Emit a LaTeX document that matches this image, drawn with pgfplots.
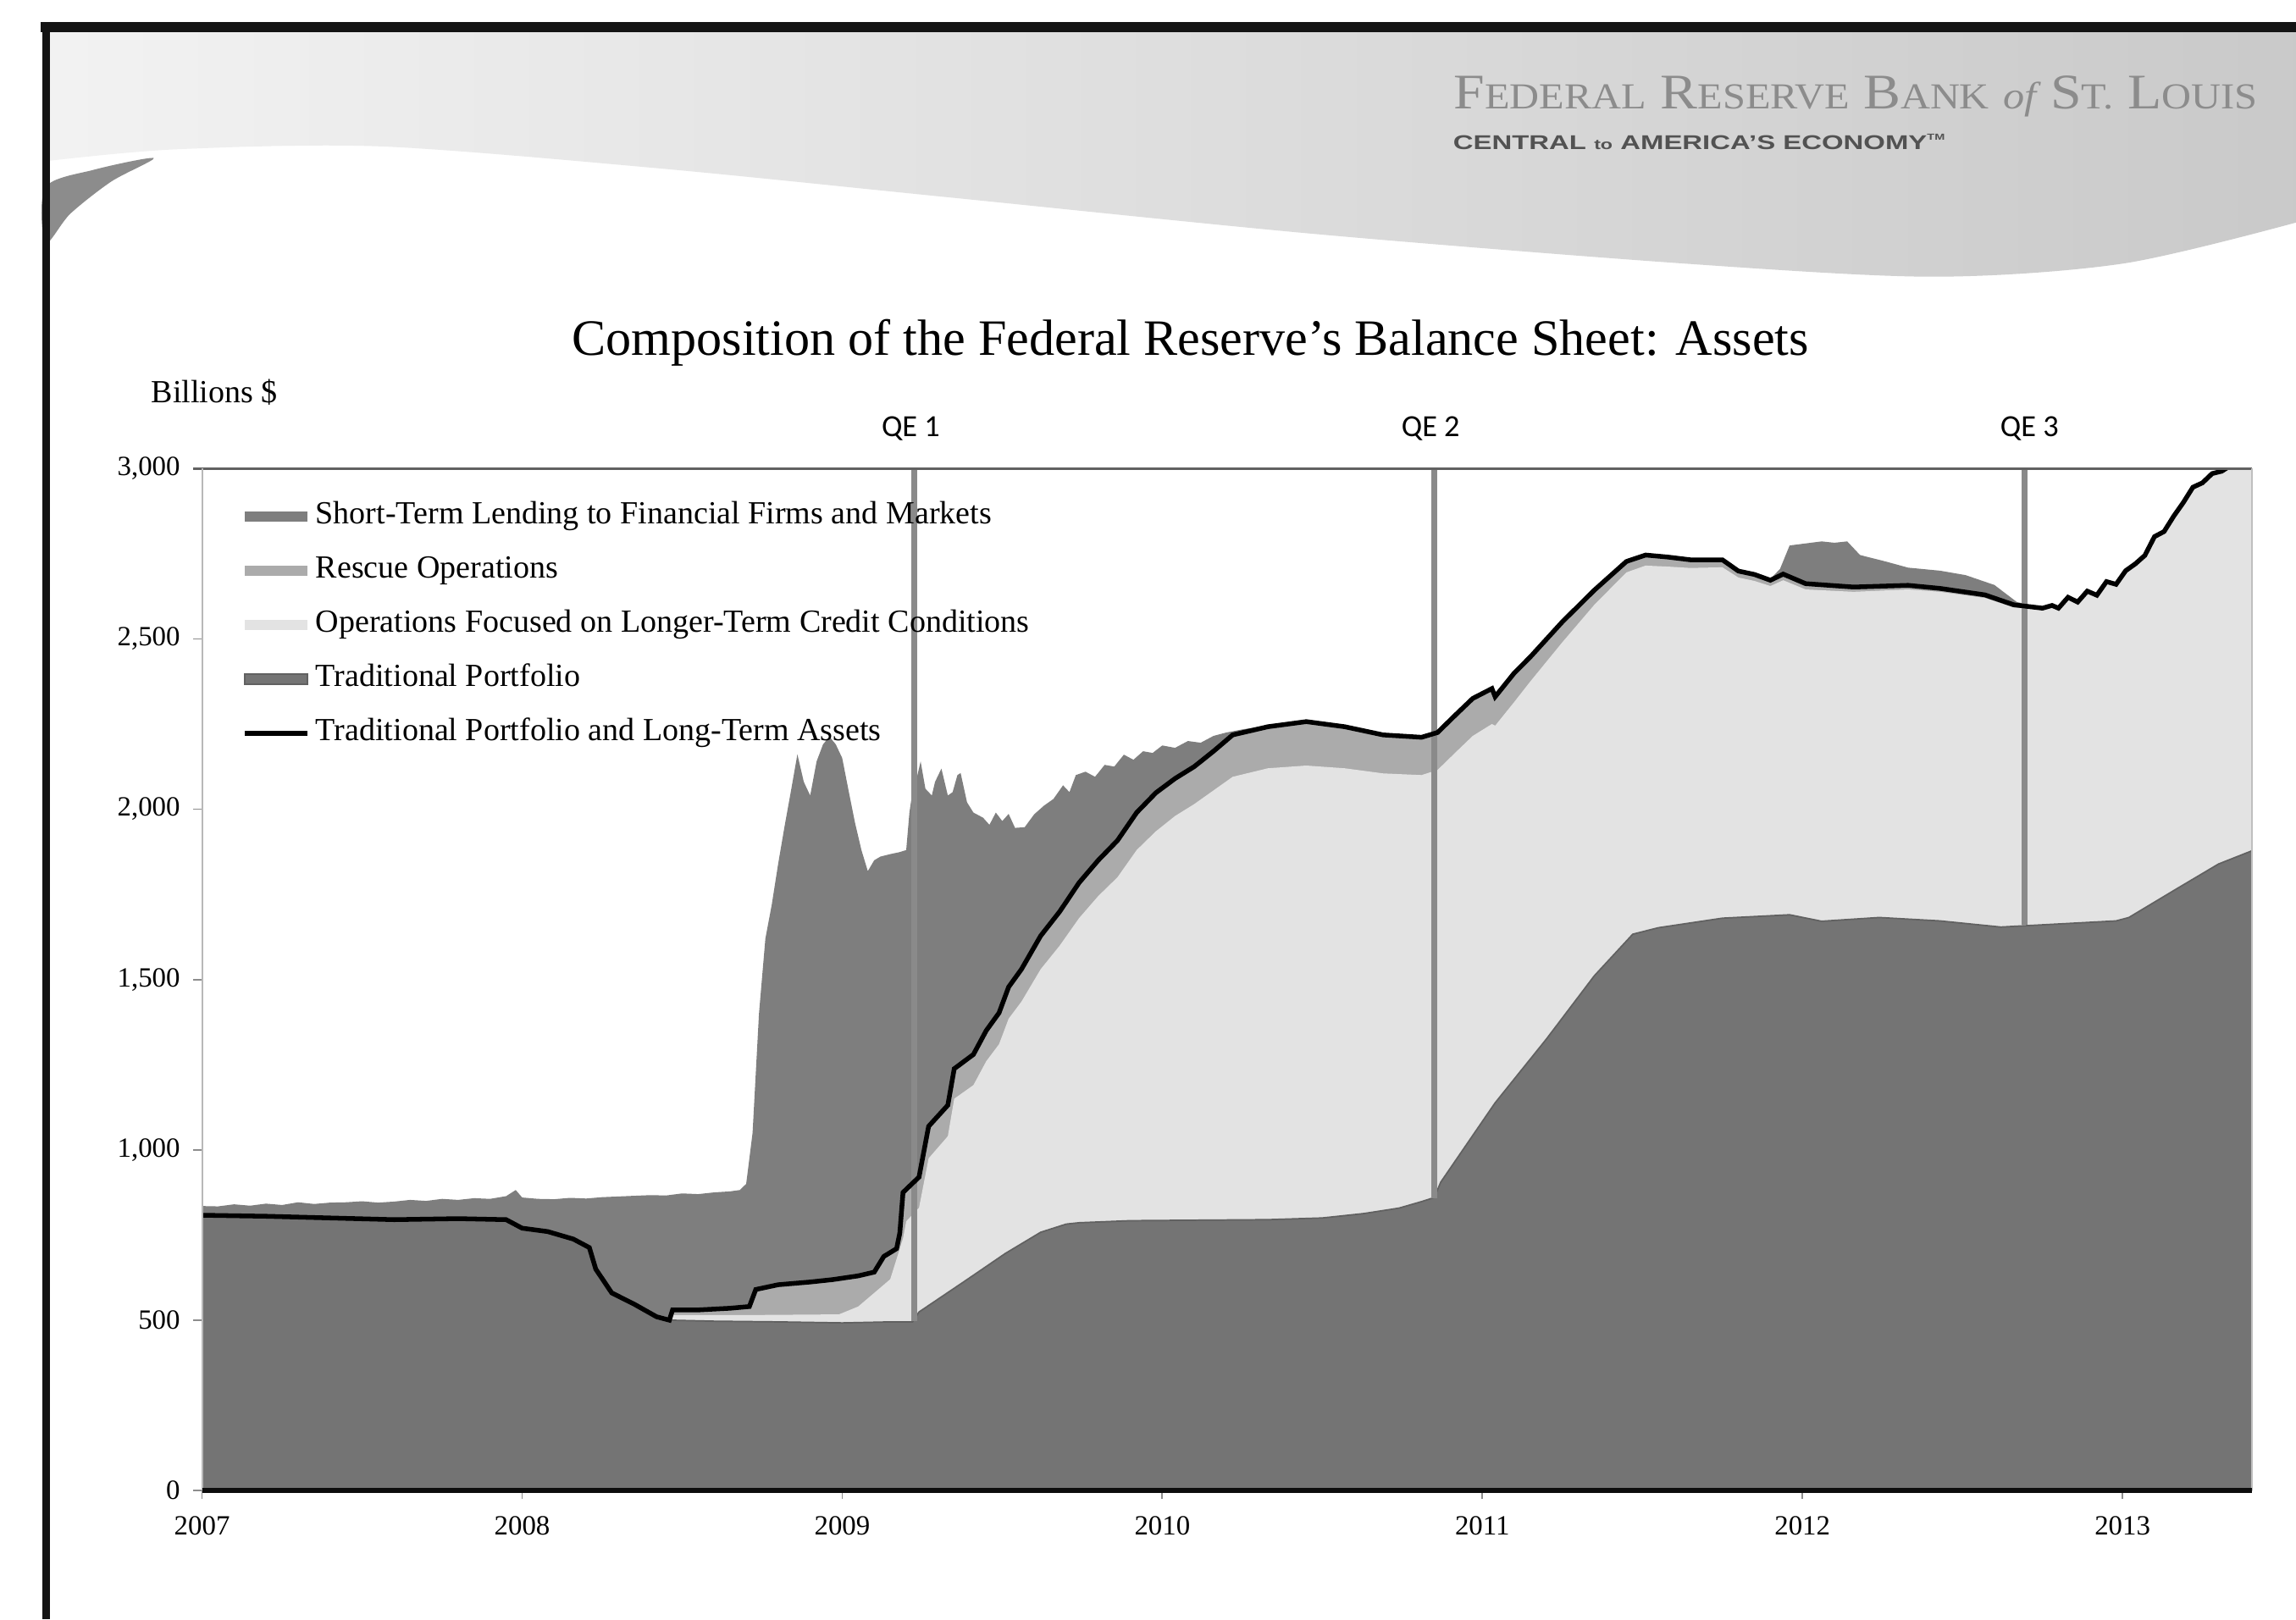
\documentclass[border=0pt]{standalone}
\usepackage{graphicx}
\usepackage{pgfplots}
\pgfplotsset{compat=1.18}
\usepackage{fontspec}
\setmainfont{Liberation Serif}
\setsansfont{Liberation Sans}
\newfontfamily\calibri{Carlito}
\definecolor{stcol}{HTML}{7E7E7E}
\definecolor{rescol}{HTML}{ABABAB}
\definecolor{ltcol}{HTML}{E3E3E3}
\definecolor{tpcol}{HTML}{747474}
\definecolor{qecol}{HTML}{8A8A8A}
\pgfplotsset{
  myarea/.style={legend image code/.code={\fill[##1] (0pt,-1.7pt) rectangle (21.5pt,1.7pt);}},
  myline/.style={legend image code/.code={\draw[##1] (0pt,0pt) -- (21.5pt,0pt);}}
}
\begin{document}
\begin{tikzpicture}[x=1pt,y=1pt]
\path[use as bounding box] (0,0) rectangle (784,553);
\fill[white] (0,0) rectangle (784,553);
% header band
\shade[left color=black!5, right color=black!21] (16,542) -- (784,542) -- plot[smooth] coordinates {(784,477) (725,463) (660,458.5) (575,463) (450,473) (325,485.5) (225,495.5) (130,503) (60,502) (16,498)} -- cycle;
\fill[black!45] plot[smooth cycle] coordinates {(15.5,489) (32,495) (52.5,499) (38,491) (24,480) (15.5,470)};
% frame
\fill[black!92] (14,542) rectangle (784,545.5);
\fill[black!92] (14.5,0) rectangle (17,545.5);
% header texts
\node[anchor=east, text=black!45, inner sep=0pt] at (771,520) {\scalebox{1.12}[1]{\fontsize{17}{20}\selectfont F{\fontsize{12.5}{15}\selectfont EDERAL} R{\fontsize{12.5}{15}\selectfont ESERVE} B{\fontsize{12.5}{15}\selectfont ANK} {\itshape\fontsize{13}{15}\selectfont of} S{\fontsize{12.5}{15}\selectfont T.} L{\fontsize{12.5}{15}\selectfont OUIS}}};
\node[anchor=west, text=black!68, inner sep=0pt] at (496,504.5) {\scalebox{1.4}[1]{\sffamily\bfseries\fontsize{6.8}{8}\selectfont CENTRAL {\fontsize{4.8}{6}\selectfont to} AMERICA'S ECONOMY\textsuperscript{\fontsize{3}{4}\selectfont TM}}};

\begin{axis}[
  at={(69pt,44pt)}, anchor=south west,
  scale only axis, width=700pt, height=349pt,
  xmin=2007, xmax=2013.405, ymin=0, ymax=3000,
  axis line style={draw=none},
  xtick={2007,2008,2009,2010,2011,2012,2013},
  xticklabels={2007,2008,2009,2010,2011,2012,2013},
  ytick={0,500,1000,1500,2000,2500,3000},
  yticklabels={0,500,{1,000},{1,500},{2,000},{2,500},{3,000}},
  tick pos=left, tick align=outside, major tick length=3pt,
  tick style={draw=black!45, line width=0.5pt},
  ticklabel style={font=\fontsize{9.5}{11}\selectfont},
  yticklabel style={xshift=-1pt},
  xticklabel style={yshift=-2.2pt},
  /pgf/number format/assume math mode=true,
  legend cell align=left,
  legend style={at={(0.0193,0.9677)}, anchor=north west, draw=none, fill=none,
    inner sep=0pt, row sep=8.5pt, font=\fontsize{11}{13}\selectfont,
    nodes={inner sep=0pt, text height=7.5pt, text depth=2.5pt},
    /tikz/every odd column/.append style={column sep=2pt}},
]
% Short-term lending (top of stack = total)
\addplot[fill=stcol, draw=none, myarea] coordinates {
(2007.00,835) (2007.05,834) (2007.10,840) (2007.15,836) (2007.20,842) (2007.25,838) (2007.30,846) (2007.35,841) (2007.40,845) (2007.45,846) (2007.50,849) (2007.55,845) (2007.60,848) (2007.65,853) (2007.70,850) (2007.75,856) (2007.80,853) (2007.85,858) (2007.90,856) (2007.95,864) (2007.98,882) (2008.00,860) (2008.05,856) (2008.10,855) (2008.15,859) (2008.20,857) (2008.25,861) (2008.30,863) (2008.35,865) (2008.40,867) (2008.45,866) (2008.50,872) (2008.55,870) (2008.60,875) (2008.65,878) (2008.68,882) (2008.70,900) (2008.72,1050) (2008.74,1400) (2008.76,1620) (2008.78,1720) (2008.80,1840) (2008.82,1950) (2008.84,2054) (2008.86,2161) (2008.88,2080) (2008.90,2040) (2008.92,2140) (2008.94,2190) (2008.96,2213) (2008.98,2190) (2009.00,2150) (2009.02,2054) (2009.04,1960) (2009.06,1880) (2009.08,1818) (2009.10,1850) (2009.12,1861) (2009.15,1868) (2009.18,1874) (2009.20,1880) (2009.21,1990) (2009.22,2054) (2009.235,2100) (2009.245,2140) (2009.26,2060) (2009.28,2040) (2009.29,2080) (2009.31,2119) (2009.33,2040) (2009.345,2050) (2009.36,2100) (2009.37,2106) (2009.39,2020) (2009.41,1990) (2009.44,1975) (2009.46,1954) (2009.48,1990) (2009.50,1965) (2009.52,1986) (2009.54,1945) (2009.57,1947) (2009.60,1985) (2009.63,2010) (2009.66,2030) (2009.69,2070) (2009.71,2050) (2009.73,2100) (2009.76,2110) (2009.79,2095) (2009.82,2130) (2009.85,2125) (2009.88,2160) (2009.91,2145) (2009.94,2170) (2009.97,2165) (2010.00,2187) (2010.04,2180) (2010.08,2200) (2010.12,2195) (2010.16,2215) (2010.20,2225) (2010.25,2234) (2010.33,2246) (2010.45,2260) (2010.57,2245) (2010.69,2220) (2010.81,2213) (2010.86,2228) (2010.92,2283) (2010.97,2328) (2011.03,2357) (2011.04,2333) (2011.10,2403) (2011.15,2450) (2011.25,2553) (2011.35,2646) (2011.45,2730) (2011.51,2750) (2011.58,2744) (2011.65,2736) (2011.75,2735) (2011.80,2702) (2011.85,2692) (2011.90,2676) (2011.93,2705) (2011.96,2774) (2012.01,2780) (2012.06,2786) (2012.10,2782) (2012.14,2786) (2012.18,2746) (2012.26,2727) (2012.33,2709) (2012.43,2700) (2012.51,2687) (2012.60,2658) (2012.67,2608) (2012.75,2592) (2012.78,2600) (2012.80,2592) (2012.83,2624) (2012.86,2610) (2012.89,2642) (2012.92,2630) (2012.95,2670) (2012.98,2662) (2013.01,2702) (2013.04,2722) (2013.07,2747) (2013.10,2802) (2013.13,2817) (2013.16,2862) (2013.19,2902) (2013.22,2947) (2013.25,2960) (2013.28,2987) (2013.31,2994) (2013.34,3012) (2013.405,3062)
} \closedcycle;
\addlegendentry{Short-Term Lending to Financial Firms and Markets}
% Rescue operations (top = TP + LT + rescue)
\addplot[fill=rescol, draw=none, myarea] coordinates {
(2007.00,808) (2007.20,805) (2007.40,800) (2007.60,795) (2007.80,798) (2007.95,795) (2008.00,770) (2008.08,760) (2008.16,738) (2008.21,713) (2008.23,650) (2008.28,580) (2008.35,547) (2008.42,510) (2008.46,500) (2008.47,530) (2008.55,530) (2008.65,535) (2008.71,540) (2008.73,590) (2008.80,604) (2008.90,612) (2008.97,619) (2009.05,630) (2009.10,641) (2009.13,687) (2009.17,710) (2009.18,756) (2009.19,875) (2009.24,920) (2009.27,1069) (2009.33,1131) (2009.35,1238) (2009.41,1280) (2009.45,1350) (2009.49,1402) (2009.52,1478) (2009.56,1530) (2009.62,1628) (2009.68,1700) (2009.74,1784) (2009.80,1850) (2009.86,1908) (2009.92,1990) (2009.98,2048) (2010.04,2090) (2010.10,2125) (2010.16,2170) (2010.22,2218) (2010.33,2242) (2010.45,2257) (2010.57,2242) (2010.69,2218) (2010.81,2211) (2010.86,2225) (2010.92,2280) (2010.97,2325) (2011.03,2354) (2011.04,2330) (2011.10,2400) (2011.15,2447) (2011.25,2550) (2011.35,2643) (2011.45,2727) (2011.51,2746) (2011.58,2740) (2011.65,2732) (2011.75,2732) (2011.80,2699) (2011.85,2689) (2011.90,2672) (2011.94,2690) (2012.01,2662) (2012.16,2652) (2012.33,2657) (2012.43,2648) (2012.57,2629) (2012.66,2600) (2012.75,2590) (2012.78,2598) (2012.80,2590) (2012.83,2622) (2012.86,2608) (2012.89,2640) (2012.92,2628) (2012.95,2668) (2012.98,2660) (2013.01,2700) (2013.04,2720) (2013.07,2745) (2013.10,2800) (2013.13,2815) (2013.16,2860) (2013.19,2900) (2013.22,2945) (2013.25,2958) (2013.28,2985) (2013.31,2992) (2013.34,3010) (2013.405,3060)
} \closedcycle;
\addlegendentry{Rescue Operations}
% Operations focused on longer-term credit conditions (top = TP + LT)
\addplot[fill=ltcol, draw=none, myarea] coordinates {
(2007.00,808) (2007.20,805) (2007.40,800) (2007.60,795) (2007.80,798) (2007.95,795) (2008.00,770) (2008.08,760) (2008.16,738) (2008.21,713) (2008.23,650) (2008.28,580) (2008.35,547) (2008.42,510) (2008.46,500) (2008.47,515) (2008.71,515) (2008.99,517) (2009.05,540) (2009.10,580) (2009.15,620) (2009.19,740) (2009.20,790) (2009.24,830) (2009.27,975) (2009.33,1040) (2009.35,1150) (2009.41,1190) (2009.45,1260) (2009.49,1310) (2009.52,1385) (2009.56,1435) (2009.62,1530) (2009.68,1600) (2009.74,1680) (2009.80,1745) (2009.86,1800) (2009.92,1880) (2009.98,1935) (2010.04,1980) (2010.10,2015) (2010.16,2055) (2010.22,2095) (2010.33,2120) (2010.45,2128) (2010.57,2120) (2010.69,2105) (2010.81,2100) (2010.86,2115) (2010.92,2170) (2010.97,2215) (2011.03,2250) (2011.04,2245) (2011.10,2315) (2011.15,2375) (2011.25,2490) (2011.35,2600) (2011.45,2695) (2011.51,2715) (2011.58,2712) (2011.65,2708) (2011.75,2710) (2011.80,2680) (2011.85,2670) (2011.90,2655) (2011.94,2672) (2012.01,2645) (2012.16,2638) (2012.33,2645) (2012.43,2638) (2012.57,2620) (2012.66,2592) (2012.75,2585) (2012.78,2598) (2012.80,2590) (2012.83,2622) (2012.86,2608) (2012.89,2640) (2012.92,2628) (2012.95,2668) (2012.98,2660) (2013.01,2700) (2013.04,2720) (2013.07,2745) (2013.10,2800) (2013.13,2815) (2013.16,2860) (2013.19,2900) (2013.22,2945) (2013.25,2958) (2013.28,2985) (2013.31,2992) (2013.34,3010) (2013.405,3060)
} \closedcycle;
\addlegendentry{Operations Focused on Longer-Term Credit Conditions}
% Traditional portfolio
\addplot[fill=tpcol, draw=black!62, line width=0.5pt, myarea] coordinates {
(2007.00,808) (2007.20,805) (2007.40,800) (2007.60,795) (2007.80,798) (2007.95,795) (2008.00,770) (2008.08,760) (2008.16,738) (2008.21,713) (2008.23,650) (2008.28,580) (2008.35,547) (2008.42,510) (2008.46,500) (2008.60,497) (2008.80,495) (2009.00,492) (2009.15,495) (2009.22,495) (2009.24,524) (2009.39,619) (2009.51,696) (2009.62,758) (2009.70,782) (2009.74,786) (2009.90,792) (2010.33,795) (2010.50,800) (2010.63,813) (2010.74,829) (2010.81,848) (2010.85,860) (2010.87,905) (2011.04,1138) (2011.20,1325) (2011.35,1511) (2011.47,1633) (2011.55,1652) (2011.75,1680) (2011.96,1690) (2012.06,1671) (2012.24,1682) (2012.43,1672) (2012.62,1654) (2012.80,1663) (2012.98,1672) (2013.02,1682) (2013.16,1761) (2013.30,1839) (2013.405,1878)
} \closedcycle;
\addlegendentry{Traditional Portfolio}
% QE markers
\addplot[qecol, line width=2pt, forget plot] coordinates {(2009.225,3000) (2009.225,497)};
\addplot[qecol, line width=2pt, forget plot] coordinates {(2010.85,3000) (2010.85,858)};
\addplot[qecol, line width=2pt, forget plot] coordinates {(2012.694,3000) (2012.694,1660)};
% Traditional portfolio and long-term assets
\addplot[black, line width=1.6pt, myline] coordinates {
(2007.00,808) (2007.20,805) (2007.40,800) (2007.60,795) (2007.80,798) (2007.95,795) (2008.00,770) (2008.08,760) (2008.16,738) (2008.21,713) (2008.23,650) (2008.28,580) (2008.35,547) (2008.42,510) (2008.46,500) (2008.47,530) (2008.55,530) (2008.65,535) (2008.71,540) (2008.73,590) (2008.80,604) (2008.90,612) (2008.97,619) (2009.05,630) (2009.10,641) (2009.13,687) (2009.17,710) (2009.18,756) (2009.19,875) (2009.24,920) (2009.27,1069) (2009.33,1131) (2009.35,1238) (2009.41,1280) (2009.45,1350) (2009.49,1402) (2009.52,1478) (2009.56,1530) (2009.62,1628) (2009.68,1700) (2009.74,1784) (2009.80,1850) (2009.86,1908) (2009.92,1990) (2009.98,2048) (2010.04,2090) (2010.10,2125) (2010.16,2170) (2010.22,2218) (2010.33,2242) (2010.45,2257) (2010.57,2242) (2010.69,2218) (2010.81,2211) (2010.86,2225) (2010.92,2280) (2010.97,2325) (2011.03,2354) (2011.04,2330) (2011.10,2400) (2011.15,2447) (2011.25,2550) (2011.35,2643) (2011.45,2727) (2011.51,2746) (2011.58,2740) (2011.65,2732) (2011.75,2732) (2011.80,2699) (2011.85,2689) (2011.90,2672) (2011.94,2690) (2012.01,2662) (2012.16,2652) (2012.33,2657) (2012.43,2648) (2012.57,2629) (2012.66,2600) (2012.75,2590) (2012.78,2598) (2012.80,2590) (2012.83,2622) (2012.86,2608) (2012.89,2640) (2012.92,2628) (2012.95,2668) (2012.98,2660) (2013.01,2700) (2013.04,2720) (2013.07,2745) (2013.10,2800) (2013.13,2815) (2013.16,2860) (2013.19,2900) (2013.22,2945) (2013.25,2958) (2013.28,2985) (2013.31,2992) (2013.34,3010) (2013.405,3060)
};
\addlegendentry{Traditional Portfolio and Long-Term Assets}
\end{axis}
% axis frame lines
\draw[black!62, line width=0.9pt] (66,393) -- (769,393);
\draw[black!28, line width=0.6pt] (69,44) -- (69,393);
\draw[black!25, line width=0.6pt] (769,44) -- (769,393);
\draw[black!95, line width=1.5pt] (69,44) -- (769,44);
% titles
\node[font=\fontsize{17.4}{20}\selectfont] at (406.5,436) {Composition of the Federal Reserve's Balance Sheet: Assets};
\node[anchor=west, inner sep=0pt, font=\fontsize{11}{12}\selectfont] at (51.5,419) {Billions \$};
\node[font=\calibri\fontsize{10.5}{12}\selectfont] at (311,406.5) {QE 1};
\node[font=\calibri\fontsize{10.5}{12}\selectfont] at (488.5,406.5) {QE 2};
\node[font=\calibri\fontsize{10.5}{12}\selectfont] at (693,406.5) {QE 3};
\end{tikzpicture}
\end{document}
